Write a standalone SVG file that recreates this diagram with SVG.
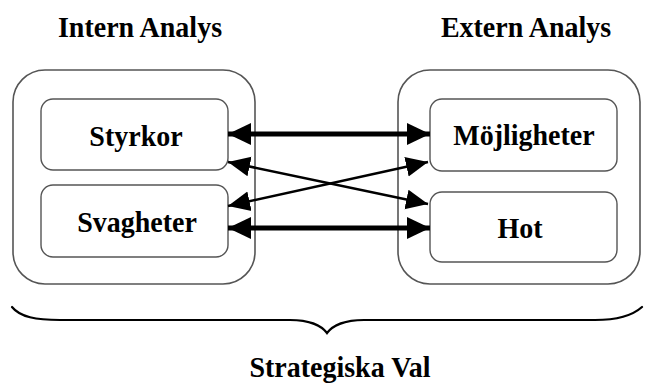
<svg xmlns="http://www.w3.org/2000/svg" width="646" height="386" viewBox="0 0 646 386">
  <style>
    text { font-family: 'Liberation Serif', serif; font-weight: 700; font-size: 28px; fill: #000; text-anchor: middle; }
    .outer { fill: #fff; stroke: #555; stroke-width: 1.6; }
    .inner { fill: #fff; stroke: #555; stroke-width: 1.4; }
    .thick { stroke: #000; stroke-width: 5; fill: none; }
    .thin { stroke: #000; stroke-width: 2.5; fill: none; }
    .brace { stroke: #000; stroke-width: 2.2; fill: none; stroke-linecap: round; }
  </style>
  <defs>
    <marker id="headThick" markerUnits="userSpaceOnUse" markerWidth="24" markerHeight="24" viewBox="0 0 24 24" refX="23" refY="12" orient="auto-start-reverse">
      <path d="M0,1 L23,12 L0,23 Z" fill="#000"/>
    </marker>
    <marker id="headThin" markerUnits="userSpaceOnUse" markerWidth="24" markerHeight="22" viewBox="0 0 24 22" refX="22" refY="11" orient="auto-start-reverse">
      <path d="M0,1 L22,11 L0,21 Z" fill="#000"/>
    </marker>
  </defs>

  <rect width="646" height="386" fill="#fff"/>

  <!-- headings, slightly tall type -->
  <text transform="translate(140,37) scale(1,1.08)">Intern Analys</text>
  <text transform="translate(526,37) scale(1,1.08)">Extern Analys</text>

  <g id="intern">
    <rect class="outer" x="13" y="70" width="242" height="214" rx="32" ry="32"/>
  </g>
  <g id="extern">
    <rect class="outer" x="398" y="70" width="242" height="214" rx="32" ry="32"/>
  </g>

  <g id="styrkor">
    <rect class="inner" x="41" y="99" width="187" height="71" rx="12" ry="12"/>
    <text transform="translate(136,146) scale(1,1.08)">Styrkor</text>
  </g>
  <g id="svagheter">
    <rect class="inner" x="41" y="185" width="187" height="72" rx="12" ry="12"/>
    <text transform="translate(137,232) scale(1,1.08)">Svagheter</text>
  </g>
  <g id="mojligheter">
    <rect class="inner" x="430" y="99" width="187" height="72" rx="12" ry="12"/>
    <text transform="translate(524,145) scale(1,1.08)">Möjligheter</text>
  </g>
  <g id="hot">
    <rect class="inner" x="430" y="192" width="187" height="70" rx="12" ry="12"/>
    <text transform="translate(520,238) scale(1,1.08)">Hot</text>
  </g>

  <g id="connectors">
    <line class="thick" x1="228" y1="134" x2="430" y2="134" marker-start="url(#headThick)" marker-end="url(#headThick)"/>
    <line class="thick" x1="228" y1="228" x2="430" y2="228" marker-start="url(#headThick)" marker-end="url(#headThick)"/>
    <line class="thin" x1="228" y1="162" x2="428" y2="204" marker-start="url(#headThin)" marker-end="url(#headThin)"/>
    <line class="thin" x1="228" y1="206" x2="428" y2="162" marker-start="url(#headThin)" marker-end="url(#headThin)"/>
  </g>

  <g id="brace">
    <path class="brace" d="M12,307 C20,317 36,320 60,320 L290,320 C310,320 322,326 327,333 C332,326 344,320 364,320 L595,320 C618,320 632,316 642,307"/>
  </g>

  <text transform="translate(340,377) scale(1,1.08)">Strategiska Val</text>
</svg>
